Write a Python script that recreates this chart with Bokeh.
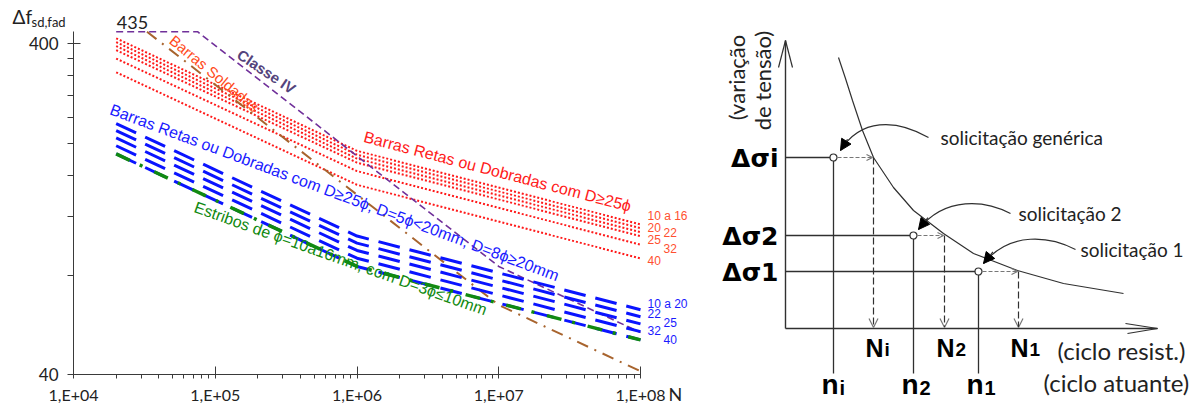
import math
from bokeh.plotting import figure
from bokeh.models import FixedTicker, Label, Arrow, OpenHead, NormalHead, Range1d
from bokeh.layouts import row
from bokeh.embed import file_html
from bokeh.resources import INLINE

# ---------------- data: fatigue (S-N) curves, left chart ----------------
N_bars = [2e4, 1e6, 1e8]                       # cycles
red_labels = ["10 a 16", "20", "22", "25", "32", "40"]   # D>=25phi, bar diameters
red_at_2e4 = [415.5, 404.6, 393.7, 382.7, 360.9, 328.1]
red_at_1e6 = [190, 185, 180, 175, 165, 150]
red_at_1e8 = [113.9, 110.9, 107.9, 104.9, 98.9, 89.9]

blue_labels = ["10 a 20", "22", "25", "32", "40"]        # D<25phi bars
blue_at_2e4 = [229.6, 218.7, 207.8, 196.8, 185.9]
blue_at_1e6 = [105, 100, 95, 90, 85]
blue_at_1e8 = [62.9, 59.9, 57.0, 54.0, 51.0]

stirrup_N = [2e4, 1e6, 1e8]
stirrup_vals = [185.9, 85, 51.0]

classe4_N = [2e4, 7.5e4, 1e7, 1e8]
classe4_vals = [435, 435, 85, 53.7]

welded_N = [3.3e4, 1e6, 1e7, 1e8]
welded_vals = [435, 140, 65, 41]

x_major = [1e4, 1e5, 1e6, 1e7, 1e8]
x_labels = ["1,E+04", "1,E+05", "1,E+06", "1,E+07", "1,E+08"]
y_major = [40, 400]
y_minor = [80, 120, 160, 200, 240, 280, 320, 360]

# ---------------- data: schematic (right) ----------------
sigma_names = ["\u0394\u03c3i", "\u0394\u03c32", "\u0394\u03c31"]
sub_names = ["i", "2", "1"]
sigma_y = [157, 235, 271]
n_act_x = [833, 913, 978]
N_res_x = [873, 944, 1018]
curve_x = [838, 845, 852, 862, 873, 893, 913, 943, 973, 1017, 1063, 1123]
curve_y = [57, 78, 100, 130, 157, 187, 210, 233, 253, 270, 283, 293]

# ---------------- layout constants (pixels) ----------------
W_LEFT, W_RIGHT, H = 700, 500, 406
X0_PX, DEC_X = 73.0, 141.75      # x pixel of 1E4, pixels per decade
Y400_PX, DEC_Y = 43.3, 331.0     # y pixel of 400, pixels per decade


def NX(px):
    return 10 ** (4 + (px - X0_PX) / DEC_X)


def VY(py):
    return 400 * 10 ** (-(py - Y400_PX) / DEC_Y)


# ---------------- left chart ----------------
p = figure(width=W_LEFT, height=H, x_axis_type="log", y_axis_type="log",
           x_range=Range1d(NX(0), NX(W_LEFT)), y_range=Range1d(VY(H), VY(0)),
           output_backend="svg", toolbar_location=None, min_border=0)
p.outline_line_color = None
p.xgrid.visible = False
p.ygrid.visible = False

minor_x = [k * 10 ** d for d in range(4, 8) for k in range(2, 10)]
p.xaxis.ticker = FixedTicker(ticks=x_major, minor_ticks=minor_x)
p.xaxis.major_label_overrides = {v: s for v, s in zip(x_major, x_labels)}
p.xaxis.fixed_location = 40
p.xaxis.bounds = (1e4, 1e8)
p.xaxis.major_tick_in = 8
p.xaxis.major_tick_out = 4
p.xaxis.minor_tick_in = 0
p.xaxis.minor_tick_out = 4
p.xaxis.major_label_standoff = 6
p.yaxis.ticker = FixedTicker(ticks=y_major, minor_ticks=y_minor)
p.yaxis.major_label_overrides = {40: "40", 400: "400"}
p.yaxis.fixed_location = 1e4
p.yaxis.bounds = (40, 435)
p.yaxis.major_tick_in = 7
p.yaxis.major_tick_out = 6
p.yaxis.minor_tick_in = 0
p.yaxis.minor_tick_out = 6
p.yaxis.major_label_standoff = 9
for ax in (p.xaxis, p.yaxis):
    ax.axis_line_color = "#3a3a3a"
    ax.major_tick_line_color = "#3a3a3a"
    ax.minor_tick_line_color = "#3a3a3a"
    ax.major_label_text_font = "Lato"
    ax.major_label_text_color = "#222222"
p.xaxis.major_label_text_font_size = "16px"
p.yaxis.major_label_text_font_size = "17px"

# red dotted lines
for i in range(len(red_labels)):
    p.line(N_bars, [red_at_2e4[i], red_at_1e6[i], red_at_1e8[i]],
           line_color="#ff1a1a", line_width=2, line_dash="2 2")
# welded bars (brown dash-dot)
p.line(welded_N, welded_vals, line_color="#a8642e", line_width=2, line_dash="12 7 2 7")
# classe IV (purple dashed)
p.line(classe4_N, classe4_vals, line_color="#70309a", line_width=1.6, line_dash="7 4")
# blue dashed lines
for i in range(len(blue_labels)):
    p.line(N_bars, [blue_at_2e4[i], blue_at_1e6[i], blue_at_1e8[i]],
           line_color="#0a14ff", line_width=3, line_dash="22 10")
# stirrups (green dash-dot)
p.line(stirrup_N, stirrup_vals, line_color="#118a11", line_width=3.5, line_dash="15 11 3 13")


def lab(fig, text, x, y, size, color="#222222", angle=0.0, align="left",
        font="Liberation Sans", style="normal", base="middle"):
    fig.add_layout(Label(x=x, y=y, text=text, text_font=font, text_font_size=f"{size}px",
                         text_color=color, angle=math.radians(angle), text_align=align,
                         text_baseline=base, text_font_style=style))


lab(p, "435", NX(132), VY(22), 18, align="center", font="Lato")
lab(p, "\u0394f", NX(12), VY(16), 19, font="Lato")
lab(p, "sd,fad", NX(31), VY(21), 13, font="Lato")
lab(p, "N", NX(668), VY(393), 18, font="Lato")

lab(p, "Barras Soldadas", NX(214), VY(73), 15, "#ff4a1a", -39.5, "center")
lab(p, "Classe IV", NX(266), VY(71), 15, "#54447c", -34, "center", style="bold")
lab(p, "Barras Retas ou Dobradas com D\u226525\u03d5", NX(497), VY(171), 16, "#ff1a1a", -14.7, "center")
lab(p, "Barras Retas ou Dobradas com D\u226525\u03d5, D=5\u03d5<20mm, D=8\u03d5\u226520mm",
    NX(334), VY(192), 16, "#1a1aff", -20.5, "center")
lab(p, "Estribos de \u03d5=10a16mm, com D=3\u03d5\u226410mm", NX(340), VY(258), 16, "#118a11", -19.6, "center")

red_lab_px = [(647, 215), (647, 227), (663, 232), (647, 239), (663, 248), (647, 260)]
for t, (x, y) in zip(red_labels, red_lab_px):
    lab(p, t, NX(x), VY(y), 12, "#ff5030")
blue_lab_px = [(647, 303), (647, 313), (663, 322), (647, 330), (663, 339)]
for t, (x, y) in zip(blue_labels, blue_lab_px):
    lab(p, t, NX(x), VY(y), 12, "#1a1aff")

# ---------------- right schematic ----------------
q = figure(width=W_RIGHT, height=H, x_range=Range1d(W_LEFT, W_LEFT + W_RIGHT), y_range=Range1d(H, 0),
           output_backend="svg", toolbar_location=None,
           x_axis_location=None, y_axis_location=None, min_border=0)
q.outline_line_color = None
q.xgrid.visible = False
q.ygrid.visible = False

ink = "#303030"
ax_x0, ax_y0, ax_ytop, ax_xend = 785, 328, 40, 1157
q.line([ax_x0, ax_x0], [ax_y0, ax_ytop], line_color=ink, line_width=1.4)
q.line([ax_x0, ax_xend], [ax_y0, ax_y0], line_color=ink, line_width=1.4)
q.segment(x0=[ax_x0, ax_x0, ax_xend, ax_xend], y0=[ax_ytop, ax_ytop, ax_y0, ax_y0],
          x1=[ax_x0 - 7, ax_x0 + 7, ax_xend - 32, ax_xend - 30],
          y1=[ax_ytop + 27, ax_ytop + 27, ax_y0 - 5, ax_y0 + 5],
          line_color=ink, line_width=1.2)

q.line(curve_x, curve_y, line_color=ink, line_width=1.2)

q.segment(x0=[ax_x0] * 3, y0=sigma_y, x1=[x - 3 for x in n_act_x], y1=sigma_y,
          line_color=ink, line_width=1.3)
q.segment(x0=n_act_x, y0=[y + 3 for y in sigma_y], x1=n_act_x, y1=[373] * 3,
          line_color=ink, line_width=1.3)

for nx, Nx, sy in zip(n_act_x, N_res_x, sigma_y):
    q.add_layout(Arrow(x_start=nx + 4, y_start=sy, x_end=Nx - 1, y_end=sy,
                       line_color="#777777", line_width=1.2, line_dash="4 2",
                       end=OpenHead(size=6, line_color="#777777", line_width=1.2)))
    q.add_layout(Arrow(x_start=Nx, y_start=sy, x_end=Nx, y_end=ax_y0 - 1,
                       line_color=ink, line_width=1.2, line_dash="7 3",
                       end=OpenHead(size=9, line_color="#777777", line_width=1.2)))

q.scatter(n_act_x, sigma_y, size=7, marker="circle", fill_color="white", line_color=ink, line_width=1.2)

# leader curves
lx0 = [928, 1010, 1075]; ly0 = [137, 213, 249]
lcx0 = [895, 985, 1050]; lcy0 = [118, 200, 236]
lcx1 = [860, 945, 1010]; lcy1 = [118, 195, 230]
lx1 = [840, 918, 983]; ly1 = [150, 229, 263]
q.bezier(x0=lx0, y0=ly0, x1=lx1, y1=ly1, cx0=lcx0, cy0=lcy0, cx1=lcx1, cy1=lcy1,
         line_color=ink, line_width=1.2)
for a, b, c, d in zip(lcx1, lcy1, lx1, ly1):
    q.add_layout(Arrow(x_start=c + 0.35 * (a - c), y_start=d + 0.35 * (b - d), x_end=c, y_end=d,
                       line_color=ink, line_width=1.2,
                       end=NormalHead(size=11, fill_color="black", line_color="black")))

for t, sy in zip(sigma_names, sigma_y):
    lab(q, t, 778, sy + 1, 25, "black", align="right", style="bold", font="DejaVu Sans")

lab(q, "(varia\u00e7\u00e3o", 736, 77, 22, "#222222", 90, "center", font="Lato")
lab(q, "de tens\u00e3o)", 762, 80, 22, "#222222", 90, "center", font="Lato")

lab(q, "solicita\u00e7\u00e3o gen\u00e9rica", 940, 137, 19, "#222222", font="Lato")
lab(q, "solicita\u00e7\u00e3o 2", 1018, 213, 19, "#222222", font="Lato")
lab(q, "solicita\u00e7\u00e3o 1", 1080, 249, 19, "#222222", font="Lato")

for Nx, s in zip(N_res_x, sub_names):
    lab(q, "N", Nx + 10, 347, 25, "black", align="right", style="bold")
    lab(q, s, Nx + 11, 349, 19, "black", style="bold")
for nx, s in zip(n_act_x, sub_names):
    lab(q, "n", nx + 5, 384, 28, "black", align="right", style="bold")
    lab(q, s, nx + 6, 387, 20, "black", style="bold")

lab(q, "(ciclo resist.)", 1057, 350, 24, "#222222", font="Lato")
lab(q, "(ciclo atuante)", 1043, 382, 24, "#222222", font="Lato")

layout = row(p, q)
open("out.html", "w").write(file_html(layout, INLINE))
